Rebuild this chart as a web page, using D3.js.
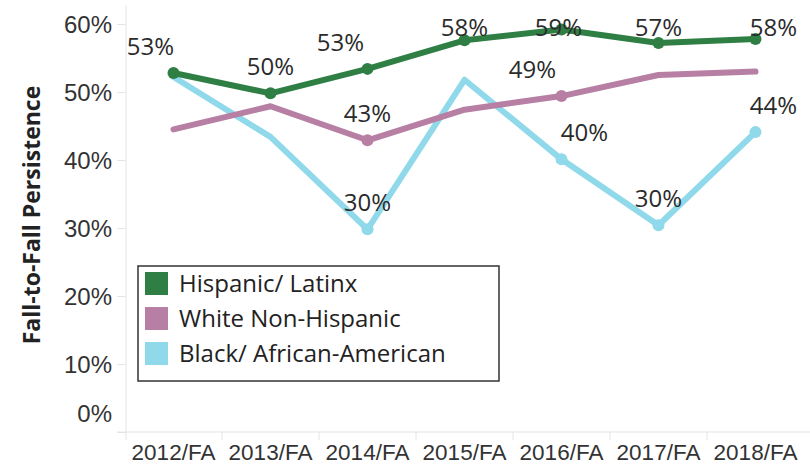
<!DOCTYPE html>
<html>
<head>
<meta charset="utf-8">
<script src="https://cdn.jsdelivr.net/npm/d3@7"></script>
<style>
    body { margin: 0; background: #fff; }
    svg { display: block; font-family: "Open Sans", sans-serif; }
    .axis text { fill: #333; }
    .axis line, .axis path { stroke: #e4e4e4; }
    .data-label { fill: #2b2b2b; font-size: 24px; text-anchor: middle; }
    .legend-text { fill: #222; font-size: 24px; }
</style>
</head>
<body>
<div id="viz"></div>
<script>
// data
var years = ['2012/FA', '2013/FA', '2014/FA', '2015/FA', '2016/FA', '2017/FA', '2018/FA'];
var seriesNames = ['Hispanic/ Latinx', 'White Non-Hispanic', 'Black/ African-American'];
var hispanic = [0.528, 0.498, 0.534, 0.576, 0.592, 0.572, 0.578];
var white = [0.445, 0.479, 0.429, 0.474, 0.494, 0.525, 0.530];
var black = [0.522, 0.434, 0.298, 0.518, 0.401, 0.304, 0.441];
// which points carry a label (and a dot)
var hispanicLabels = [true, true, true, true, true, true, true];
var whiteLabels = [false, false, true, false, true, false, false];
var blackLabels = [false, false, true, false, true, true, true];
var yTicks = [0, 0.1, 0.2, 0.3, 0.4, 0.5, 0.6];

var colors = ['#2f7f45', '#b77fa3', '#8fd9ea'];

// label nudges (x offset) so labels sit like in the original
var labelDx = [
    [-23, 0, -27, 0, -3, 0, 18],
    [0, 0, 0, 0, -29, 0, 0],
    [0, 0, 0, 0, 23, 0, 18]
];

var width = 810, height = 466;

var svg = d3.select('#viz').append('svg')
    .attr('width', width)
    .attr('height', height);

var x = d3.scaleBand()
    .domain(years)
    .range([125, 804]);

var y = d3.scaleLinear()
    .domain([0, 0.6])
    .range([432, 24]);

var fmt = d3.format('.0%');

// y axis
var yAxis = svg.append('g')
    .attr('class', 'axis y')
    .attr('transform', 'translate(126,0)')
    .call(d3.axisLeft(y).tickValues(yTicks).tickFormat(fmt).tickSize(9).tickPadding(5));
yAxis.select('.domain').remove();
yAxis.selectAll('text')
    .style('font-size', '24px')
    .attr('dy', '0.36em')
    .attr('y', function(d) { return Math.min(0, 413 - y(d)); });

svg.append('line')
    .attr('x1', 126).attr('x2', 126)
    .attr('y1', 5).attr('y2', 440)
    .attr('stroke', '#e4e4e4');

// x axis
var xAxis = svg.append('g')
    .attr('class', 'axis x')
    .attr('transform', 'translate(0,432)')
    .call(d3.axisBottom(x).tickSize(0).tickPadding(12));
xAxis.select('.domain').remove();
xAxis.selectAll('text')
    .style('font-size', '22.5px')
    .attr('dy', '0.71em');

svg.append('line')
    .attr('x1', 117).attr('x2', 810)
    .attr('y1', 432).attr('y2', 432)
    .attr('stroke', '#e4e4e4');

svg.append('g')
    .selectAll('line')
    .data(years.slice(1))
    .enter().append('line')
    .attr('x1', function(d) { return x(d); })
    .attr('x2', function(d) { return x(d); })
    .attr('y1', 432).attr('y2', 440)
    .attr('stroke', '#e4e4e4');

// y title
svg.append('text')
    .attr('transform', 'translate(40,215) rotate(-90)')
    .attr('text-anchor', 'middle')
    .style('font-size', '23px')
    .style('font-weight', 'bold')
    .attr('fill', '#222')
    .text('Fall-to-Fall Persistence');

var line = d3.line()
    .x(function(d, i) { return x(years[i]) + x.bandwidth() / 2; })
    .y(function(d) { return y(d); });

var series = [hispanic, white, black];
var shown = [hispanicLabels, whiteLabels, blackLabels];

// draw black first, then white, then hispanic on top
[2, 1, 0].forEach(function(s) {
    svg.append('path')
        .datum(series[s])
        .attr('d', line)
        .attr('fill', 'none')
        .attr('stroke', colors[s])
        .attr('stroke-width', 6)
        .attr('stroke-linejoin', 'round')
        .attr('stroke-linecap', 'round');

    svg.append('g')
        .selectAll('circle')
        .data(series[s].filter(function(d, i) { return shown[s][i]; }))
        .enter().append('circle')
        .attr('cx', function(d) { return x(years[series[s].indexOf(d)]) + x.bandwidth() / 2; })
        .attr('cy', function(d) { return y(d); })
        .attr('r', 6)
        .attr('fill', colors[s]);
});

// labels on top of all lines
[2, 1, 0].forEach(function(s) {
    series[s].forEach(function(d, i) {
        if (!shown[s][i]) return;
        var cy = Math.max(27, y(d) - 27);
        svg.append('text')
            .attr('class', 'data-label')
            .attr('x', x(years[i]) + x.bandwidth() / 2 + labelDx[s][i])
            .attr('y', cy)
            .attr('dy', '0.36em')
            .text(fmt(d));
    });
});

// legend
var legend = svg.append('g');
legend.append('rect')
    .attr('x', 138).attr('y', 266)
    .attr('width', 361).attr('height', 115)
    .attr('fill', '#fff')
    .attr('stroke', '#333')
    .attr('stroke-width', 1.5);

seriesNames.forEach(function(name, i) {
    legend.append('rect')
        .attr('x', 145).attr('y', 272 + i * 35)
        .attr('width', 23).attr('height', 23)
        .attr('fill', colors[i]);
    legend.append('text')
        .attr('class', 'legend-text')
        .attr('x', 179).attr('y', 283.5 + i * 35)
        .attr('dy', '0.36em')
        .text(name);
});
</script>
</body>
</html>
